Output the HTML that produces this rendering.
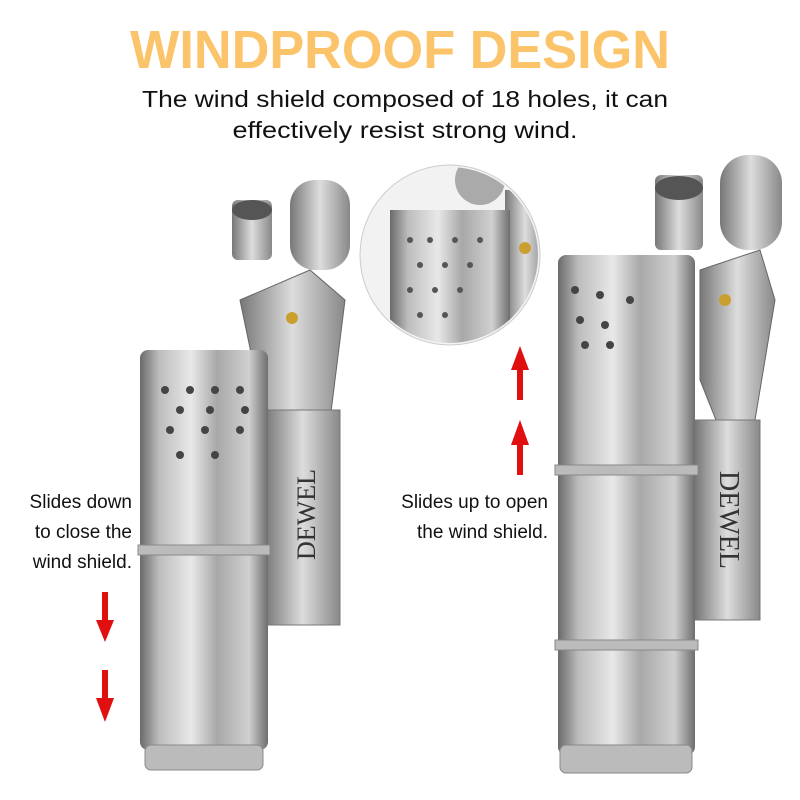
<!DOCTYPE html>
<html><head><style>body{margin:0;background:#fff}svg{display:block}</style></head><body>
<svg width="800" height="800" viewBox="0 0 800 800" xmlns="http://www.w3.org/2000/svg">
<defs>
<linearGradient id="m" x1="0" x2="1" y1="0" y2="0">
<stop offset="0" stop-color="#6a6a6a"/><stop offset="0.15" stop-color="#bdbdbd"/><stop offset="0.4" stop-color="#e8e8e8"/><stop offset="0.6" stop-color="#a8a8a8"/><stop offset="0.85" stop-color="#d0d0d0"/><stop offset="1" stop-color="#6e6e6e"/>
</linearGradient>
<linearGradient id="d" x1="0" x2="1"><stop offset="0" stop-color="#777"/><stop offset="0.5" stop-color="#ddd"/><stop offset="1" stop-color="#888"/></linearGradient>
<clipPath id="c"><circle cx="450" cy="255" r="88"/></clipPath>
</defs>
<text x="400" y="68" text-anchor="middle" font-family="Liberation Sans" font-weight="bold" font-size="54" fill="#fcc46a" textLength="540" lengthAdjust="spacingAndGlyphs">WINDPROOF DESIGN</text>
<text x="405" y="107" text-anchor="middle" font-family="Liberation Sans" font-size="23" fill="#111" textLength="526" lengthAdjust="spacingAndGlyphs">The wind shield composed of 18 holes, it can</text>
<text x="405" y="138" text-anchor="middle" font-family="Liberation Sans" font-size="23" fill="#111" textLength="345" lengthAdjust="spacingAndGlyphs">effectively resist strong wind.</text>

<!-- left lighter -->
<rect x="232" y="200" width="40" height="60" rx="6" fill="url(#d)"/>
<ellipse cx="252" cy="210" rx="20" ry="10" fill="#555"/>
<rect x="290" y="180" width="60" height="90" rx="25" fill="url(#d)"/>
<path d="M240 300 L310 270 L345 300 L330 420 L300 440 L265 420 Z" fill="url(#d)" stroke="#666"/>
<circle cx="292" cy="318" r="6" fill="#c9a030"/>
<rect x="265" y="410" width="75" height="215" fill="url(#d)" stroke="#777"/>
<text x="305" y="520" transform="rotate(-90 305 520) translate(-40 0)" font-family="Liberation Serif" font-size="26" fill="#333" dy="10">DEWEL</text>
<rect x="140" y="350" width="128" height="400" rx="8" fill="url(#m)"/>
<rect x="138" y="545" width="132" height="10" fill="#bbb" stroke="#888"/>
<rect x="145" y="745" width="118" height="25" rx="6" fill="#bbb" stroke="#888"/>
<g fill="#444">
<circle cx="165" cy="390" r="4"/><circle cx="190" cy="390" r="4"/><circle cx="215" cy="390" r="4"/><circle cx="240" cy="390" r="4"/>
<circle cx="180" cy="410" r="4"/><circle cx="210" cy="410" r="4"/><circle cx="245" cy="410" r="4"/>
<circle cx="170" cy="430" r="4"/><circle cx="205" cy="430" r="4"/><circle cx="240" cy="430" r="4"/>
<circle cx="180" cy="455" r="4"/><circle cx="215" cy="455" r="4"/>
</g>
<g font-family="Liberation Sans" font-size="19" fill="#111" text-anchor="end">
<text x="132" y="508">Slides down</text><text x="132" y="538">to close the</text><text x="132" y="568">wind shield.</text>
<text x="548" y="508">Slides up to open</text><text x="548" y="538">the wind shield.</text>
</g>
<g fill="#e01010">
<rect x="102" y="592" width="6" height="30"/><polygon points="96,620 114,620 105,642"/>
<rect x="102" y="670" width="6" height="30"/><polygon points="96,698 114,698 105,722"/>
<rect x="517" y="368" width="6" height="32"/><polygon points="511,370 529,370 520,346"/>
<rect x="517" y="443" width="6" height="32"/><polygon points="511,445 529,445 520,420"/>
</g>

<!-- inset circle -->
<circle cx="450" cy="255" r="90" fill="#f2f2f2" stroke="#ccc"/>
<g clip-path="url(#c)">
<circle cx="480" cy="180" r="25" fill="#aaa"/>
<rect x="505" y="190" width="40" height="130" fill="url(#d)"/>
<rect x="390" y="210" width="120" height="150" fill="url(#m)"/>
<g fill="#555"><circle cx="410" cy="240" r="3"/><circle cx="430" cy="240" r="3"/><circle cx="455" cy="240" r="3"/><circle cx="480" cy="240" r="3"/>
<circle cx="420" cy="265" r="3"/><circle cx="445" cy="265" r="3"/><circle cx="470" cy="265" r="3"/>
<circle cx="410" cy="290" r="3"/><circle cx="435" cy="290" r="3"/><circle cx="460" cy="290" r="3"/>
<circle cx="420" cy="315" r="3"/><circle cx="445" cy="315" r="3"/></g>
<circle cx="525" cy="248" r="6" fill="#c9a030"/>
</g>

<!-- right lighter -->
<rect x="655" y="175" width="48" height="75" rx="6" fill="url(#d)"/>
<ellipse cx="679" cy="188" rx="24" ry="12" fill="#555"/>
<rect x="720" y="155" width="62" height="95" rx="28" fill="url(#d)"/>
<path d="M700 270 L760 250 L775 300 L755 420 L720 430 L700 380 Z" fill="url(#d)" stroke="#666"/>
<circle cx="725" cy="300" r="6" fill="#c9a030"/>
<rect x="695" y="420" width="65" height="200" fill="url(#d)" stroke="#777"/>
<text x="730" y="520" transform="rotate(90 730 520)" text-anchor="middle" font-family="Liberation Serif" font-size="28" fill="#333" dy="10">DEWEL</text>
<rect x="558" y="255" width="137" height="500" rx="8" fill="url(#m)"/>
<rect x="555" y="465" width="143" height="10" fill="#bbb" stroke="#888"/>
<rect x="555" y="640" width="143" height="10" fill="#bbb" stroke="#888"/>
<rect x="560" y="745" width="132" height="28" rx="6" fill="#bbb" stroke="#888"/>
<g fill="#444">
<circle cx="575" cy="290" r="4"/><circle cx="600" cy="295" r="4"/><circle cx="630" cy="300" r="4"/>
<circle cx="580" cy="320" r="4"/><circle cx="605" cy="325" r="4"/>
<circle cx="585" cy="345" r="4"/><circle cx="610" cy="345" r="4"/>
</g>
</svg>
</body></html>
